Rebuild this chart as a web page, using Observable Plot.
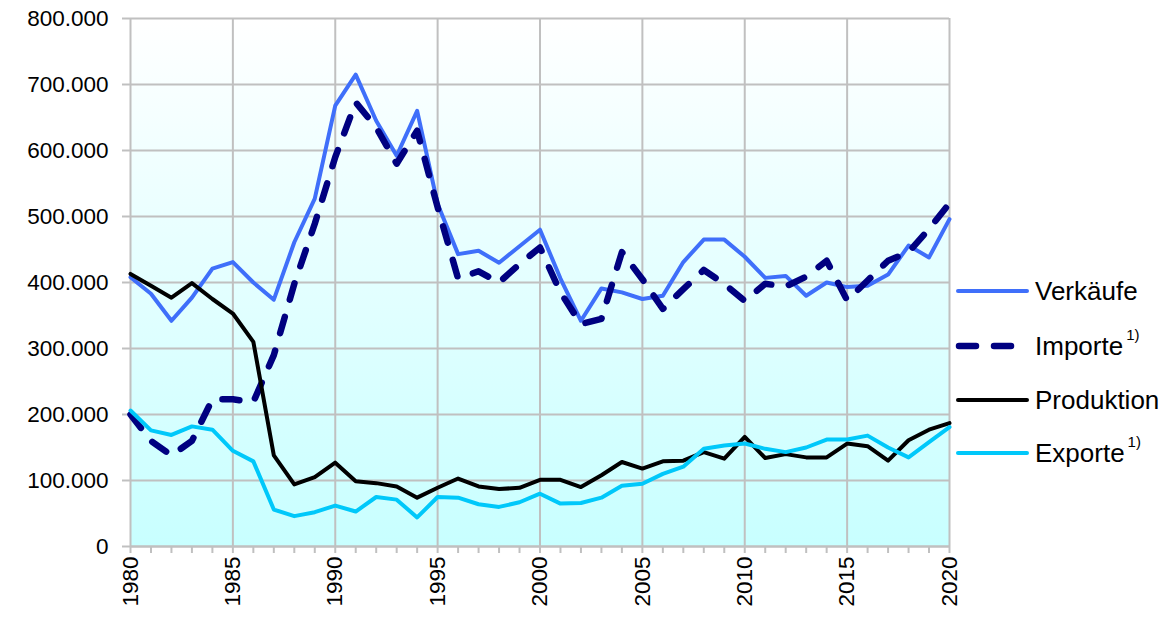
<!DOCTYPE html>
<html>
<head>
<meta charset="utf-8">
<script src="https://cdn.jsdelivr.net/npm/d3@7"></script>
<script src="https://cdn.jsdelivr.net/npm/@observablehq/plot@0.6"></script>
<style>
  body { margin: 0; background: #ffffff; font-family: Arial, "Liberation Sans", sans-serif; }
  #wrap { position: relative; width: 1174px; height: 624px; overflow: hidden; }
  #legend { position: absolute; left: 0; top: 0; }
  .item { position: absolute; left: 955px; height: 30px; display: flex; align-items: center; font-size: 26px; color: #000; white-space: nowrap; }
  .item svg { margin-right: 4px; }
  .sup { font-size: 15px; position: relative; top: -12px; margin-left: 3px; }
</style>
</head>
<body>
<div id="wrap"><div id="legend"></div></div>
<script>
// ---- data (values in thousands) ----
const years = d3.range(1980, 2021);
const verkaeufe = [408,383,342,377,421,431,400,374,461,527, 668,715,645,592,660,519,443,448,430,455, 480,406,342,391,385,375,380,431,465,465, 439,407,410,380,400,393,395,412,456,438, 496];
const importe   = [200,160,138,160,223,223,219,290,398,489, 590,673,635,580,630,514,406,417,400,428, 453,385,337,345,446,405,360,390,419,398, 372,398,394,409,433,373,403,433,446,481, 520];
const produktion= [413,395,377,399,375,353,310,138,94,105, 127,99,96,91,74,89,103,91,87,89, 101,101,90,108,128,118,129,130,143,133, 166,134,140,135,135,156,152,130,161,177, 187];
const exporte   = [206,176,169,182,177,145,129,56,46,52, 62,53,75,71,44,75,74,64,60,67, 80,65,66,74,92,95,110,121,148,153, 156,148,143,150,162,162,168,150,135,158, 181];
const yTicks = [0,100000,200000,300000,400000,500000,600000,700000,800000];
const xLabelYears = [1980,1985,1990,1995,2000,2005,2010,2015,2020];
const seriesNames = ["Verkäufe","Importe","Produktion","Exporte"];
const seriesNotes = ["","1)","","1)"];
const seriesColors = ["#3f6ffa","#000080","#000000","#00c8fa"];

const toRows = vals => years.map((y, i) => ({year: y, value: vals[i] * 1000}));
const fmt = d => d3.format(",")(d).replace(/,/g, ".");

const chart = Plot.plot({
  width: 1174, height: 624,
  marginLeft: 130, marginRight: 225, marginTop: 18, marginBottom: 78,
  style: { fontFamily: 'Arial, "Liberation Sans", sans-serif', fontSize: "22.5px", color: "#000", background: "transparent", overflow: "visible" },
  x: { domain: [1980, 2020] },
  y: { domain: [0, 800000] },
  marks: [
    Plot.frame({ fill: "url(#bgGrad)" }),
    Plot.gridY(yTicks, { stroke: "#c0c0c0", strokeOpacity: 1, strokeWidth: 2 }),
    Plot.gridX(xLabelYears, { stroke: "#c0c0c0", strokeOpacity: 1, strokeWidth: 2 }),
    Plot.axisY(yTicks, { label: null, tickSize: 8, tickPadding: 14, tickFormat: fmt, stroke: "#c0c0c0", strokeWidth: 2, fill: "#000", fontSize: 22.5 }),
    Plot.axisX(years, { label: null, tickSize: 7, tickPadding: 3, tickRotate: -90, tickFormat: d => (d % 5 === 0 ? String(d) : ""), stroke: "#c0c0c0", strokeWidth: 2, fill: "#000", fontSize: 22.5 }),
    Plot.ruleY([0], { stroke: "#c0c0c0", strokeWidth: 2 }),
    Plot.line(toRows(verkaeufe), { x: "year", y: "value", stroke: seriesColors[0], strokeWidth: 4, strokeLinejoin: "round" }),
    Plot.line(toRows(importe), { x: "year", y: "value", stroke: seriesColors[1], strokeWidth: 6.5, strokeDasharray: "17,18", strokeLinecap: "round", strokeLinejoin: "round" }),
    Plot.line(toRows(produktion), { x: "year", y: "value", stroke: seriesColors[2], strokeWidth: 4, strokeLinejoin: "round" }),
    Plot.line(toRows(exporte), { x: "year", y: "value", stroke: seriesColors[3], strokeWidth: 4, strokeLinejoin: "round" })
  ]
});

d3.select(chart).insert("defs", ":first-child").html(
  '<linearGradient id="bgGrad" x1="0" y1="0" x2="0" y2="1">' +
  '<stop offset="0" stop-color="#ffffff"/><stop offset="1" stop-color="#c8ffff"/></linearGradient>'
);

const wrap = document.getElementById("wrap");
wrap.insertBefore(chart, wrap.firstChild);

// ---- legend ----
const legendY = [291, 346, 400, 453];
const legend = document.getElementById("legend");
seriesNames.forEach((name, i) => {
  const div = document.createElement("div");
  div.className = "item";
  div.style.top = (legendY[i] - 15) + "px";
  const dashed = i === 1;
  const sw = dashed ? 6.5 : 4;
  const dash = dashed ? 'stroke-dasharray="17,18" stroke-linecap="round"' : 'stroke-linecap="round"';
  const x1 = dashed ? 4 : 3;
  div.innerHTML =
    `<svg width="76" height="30"><line x1="${x1}" x2="72" y1="15" y2="15" stroke="${seriesColors[i]}" stroke-width="${sw}" ${dash}/></svg>` +
    `<span>${name}</span>` + (seriesNotes[i] ? `<span class="sup">${seriesNotes[i]}</span>` : "");
  legend.appendChild(div);
});
</script>
</body>
</html>
